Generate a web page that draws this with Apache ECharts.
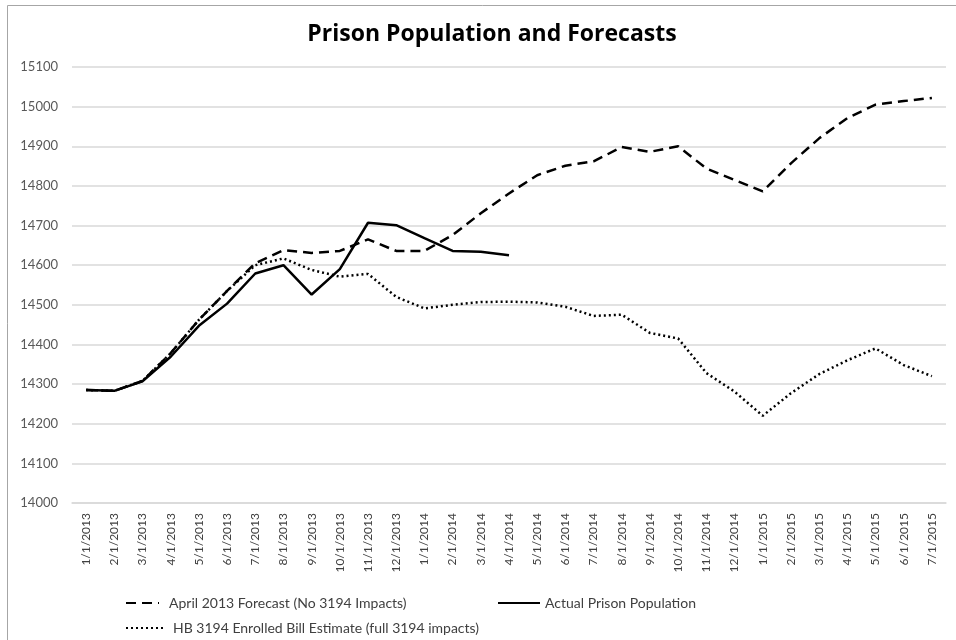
<!DOCTYPE html>
<html><head><meta charset="utf-8">
<script src="https://cdn.jsdelivr.net/npm/echarts@6/dist/echarts.min.js"></script>
<style>html,body{margin:0;padding:0;background:#fff}#c{width:956px;height:640px}</style>
</head><body><div id="c"></div>
<script>
const categories = ["1/1/2013","2/1/2013","3/1/2013","4/1/2013","5/1/2013","6/1/2013","7/1/2013","8/1/2013","9/1/2013","10/1/2013","11/1/2013","12/1/2013",
"1/1/2014","2/1/2014","3/1/2014","4/1/2014","5/1/2014","6/1/2014","7/1/2014","8/1/2014","9/1/2014","10/1/2014","11/1/2014","12/1/2014",
"1/1/2015","2/1/2015","3/1/2015","4/1/2015","5/1/2015","6/1/2015","7/1/2015"];
const forecast = [14285,14283,14308,14378,14462,14535,14605,14638,14631,14636,14665,14636,14636,14676,14731,14781,14827,14851,14862,14898,14886,14900,14844,14815,14786,14857,14920,14971,15005,15014,15022];
const actual = [14285,14283,14307,14369,14447,14503,14579,14600,14526,14590,14707,14701,14668,14636,14634,14625];
const hb3194 = [14285,14283,14308,14378,14462,14535,14600,14617,14588,14571,14578,14520,14491,14500,14507,14508,14506,14495,14472,14475,14429,14415,14328,14281,14220,14277,14325,14360,14390,14348,14320];
const yTicks = {min:14000, max:15100, step:100};
const names = ["April 2013 Forecast (No 3194 Impacts)","Actual Prison Population","HB 3194 Enrolled Bill Estimate (full 3194 impacts)"];

const chart = echarts.init(document.getElementById('c'));
const font = 'Lato, "Open Sans", sans-serif';
const legendBase = {orient:'horizontal', itemHeight:10,
  itemStyle:{color:'rgba(0,0,0,0)',borderWidth:0,opacity:0},
  textStyle:{fontFamily:font,fontSize:14,color:'#404040'}};
chart.setOption({
  animation:false,
  title:{text:'Prison Population and Forecasts', left:487, textAlign:'center', top:18,
    textStyle:{fontFamily:'"Open Sans", sans-serif',fontSize:23,fontWeight:'bold',color:'#000'}},
  graphic:[{type:'rect',shape:{x:7.5,y:5.5,width:1000,height:700},style:{fill:null,stroke:'#a6a6a6',lineWidth:1}}],
  legend:[
    Object.assign({},legendBase,{data:[names[0]],left:120,top:591,itemWidth:33,textStyle:Object.assign({},legendBase.textStyle,{padding:[0,0,0,5]})}),
    Object.assign({},legendBase,{data:[names[1]],left:492,top:591,itemWidth:42,textStyle:Object.assign({},legendBase.textStyle,{padding:[0,0,0,0]})}),
    Object.assign({},legendBase,{data:[names[2]],left:120,top:616,itemWidth:40,textStyle:Object.assign({},legendBase.textStyle,{padding:[0,0,0,2]})})
  ],
  grid:{left:72,right:10,top:67,bottom:137},
  xAxis:{type:'category',data:categories,boundaryGap:true,
    axisLine:{lineStyle:{color:'#d9d9d9',width:1.5}},axisTick:{show:false},
    axisLabel:{rotate:90,interval:0,margin:10,fontFamily:font,fontSize:12,color:'#404040'}},
  yAxis:{type:'value',min:yTicks.min,max:yTicks.max,interval:yTicks.step,
    axisLine:{show:false},axisTick:{show:false},
    splitLine:{lineStyle:{color:'#d9d9d9',width:1.5}},
    axisLabel:{margin:14,fontFamily:font,fontSize:13,color:'#595959',formatter:v=>String(v)}},
  series:[
    {name:names[0],type:'line',data:forecast,symbol:'none',z:3,
      lineStyle:{color:'#000',width:2.5,type:[10,6],cap:'butt'},itemStyle:{color:'#000'}},
    {name:names[1],type:'line',data:actual,symbol:'none',z:4,
      lineStyle:{color:'#000',width:2.5,type:'solid'},itemStyle:{color:'#000'}},
    {name:names[2],type:'line',data:hb3194,symbol:'none',z:2,
      lineStyle:{color:'#000',width:2.5,type:[2,3],cap:'butt'},itemStyle:{color:'#000'}}
  ]
});
</script></body></html>
